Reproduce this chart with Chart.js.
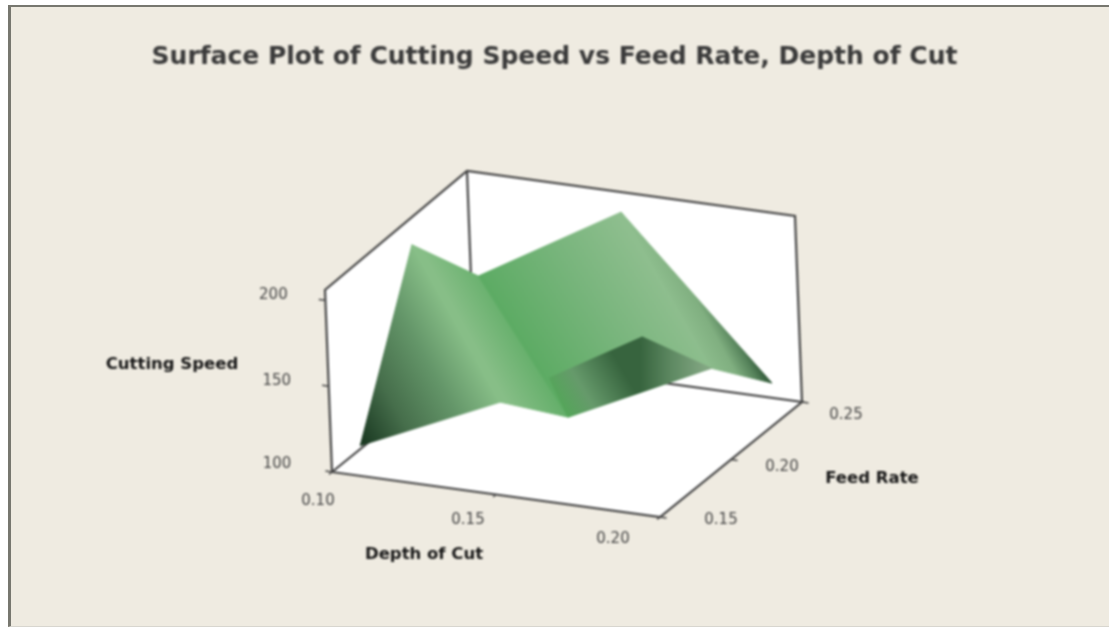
<!DOCTYPE html>
<html>
<head>
<meta charset="utf-8">
<title>Surface Plot</title>
<script src="https://cdn.jsdelivr.net/npm/chart.js@4/dist/chart.umd.min.js"></script>
<style>
    html, body { margin: 0; padding: 0; background: #fff; overflow: hidden; }
    #wrap { position: relative; width: 1109px; height: 628px; overflow: hidden; }
    #frame { position: absolute; left: 8px; top: 5px; right: -6px; bottom: 1px;
             background: #efebe1; border: 2px solid #77776f; border-left-width: 3px;
             border-bottom: 1px solid #d8d6cf; filter: blur(0.6px); }
    canvas { position: absolute; left: 0; top: 0; filter: blur(0.8px); }
</style>
</head>
<body>
<div id="wrap">
    <div id="frame"></div>
    <canvas id="surfacechart" width="1109" height="628"></canvas>
</div>
<script>
// axis ticks
var depthTicks = [0.10, 0.15, 0.20];
var feedTicks = [0.15, 0.20, 0.25];
var speedTicks = [100, 150, 200];

// box limits
var depthLimits = [0.10, 0.20];
var feedLimits = [0.15, 0.25];
var speedLimits = [100, 206];

// surface vertices
var depthOfCut = [0.100, 0.100, 0.120, 0.149, 0.200, 0.195, 0.180, 0.164, 0.150, 0.163, 0.152];
var feedRate = [0.170, 0.2105, 0.2105, 0.245, 0.230, 0.200, 0.185, 0.170, 0.1553, 0.225, 0.185];
var cuttingSpeed = [102, 190.6, 177.8, 198.5, 124, 151.3, 143.7, 135.2, 150.2, 144.2, 144.6];

// which vertices make each facet, painted in this order
var facets = [
    [0, 1, 8],
    [1, 2, 7, 8],
    [2, 3, 5, 7],
    [3, 4, 5],
    [10, 9, 6, 7],
    [9, 5, 6]
];

// shading of each facet: gradient line in page pixels, then colour stops
var shades = [
    { from: [358, 446], to: [485, 375], stops: [[0, "#14321c"], [0.35, "#466e4b"], [0.7, "#649669"], [1, "#87be87"]] },
    { from: [455, 310], to: [505, 282], stops: [[0, "#87be87"], [1, "#5cab63"]] },
    { from: [522, 346], to: [650, 265], stops: [[0, "#5cab63"], [0.55, "#78b57c"], [1, "#8ebe8e"]] },
    { from: [680, 320], to: [726, 295], stops: [[0, "#8ebe8e"], [0.45, "#80af80"], [0.75, "#55825a"], [1, "#264c2e"]] },
    { from: [565, 410], to: [640, 365], stops: [[0, "#55a55a"], [0.3, "#669a6b"], [0.8, "#37643e"], [1, "#37643e"]] },
    { from: [640, 350], to: [705, 350], stops: [[0, "#37643e"], [0.5, "#5f8a63"], [1, "#82a682"]] }
];

var boxColor = "#444444";
var tickColor = "#444444";
var textFont = "'DejaVu Sans'";

// oblique view of the 3d box, gives page pixels
function project(depth, feed, speed) {
    var u = (depth - depthLimits[0]) / (depthLimits[1] - depthLimits[0]);
    var v = (feed - feedLimits[0]) / (feedLimits[1] - feedLimits[0]);
    var w = (speed - speedLimits[0]) / (speedLimits[1] - speedLimits[0]);
    return {
        x: 332 + 328 * u + 142 * v - 7 * w,
        y: 472 + 45 * u - 115 * v - (182 + 4 * v) * w
    };
}

var d0 = depthLimits[0], d1 = depthLimits[1];
var f0 = feedLimits[0], f1 = feedLimits[1];
var s0 = speedLimits[0], s1 = speedLimits[1];

function closed(points) {
    return points.concat([points[0]]);
}

function wall(points) {
    return {
        data: closed(points),
        showLine: true,
        fill: "shape",
        backgroundColor: "#ffffff",
        borderWidth: 0,
        pointRadius: 0
    };
}

function edge(points, color, width) {
    return {
        data: points,
        showLine: true,
        fill: false,
        borderColor: color,
        borderWidth: width,
        pointRadius: 0
    };
}

function facetFill(ctx, shade) {
    var g = ctx.chart.ctx.createLinearGradient(shade.from[0], shade.from[1], shade.to[0], shade.to[1]);
    shade.stops.forEach(function (s) { g.addColorStop(s[0], s[1]); });
    return g;
}

var datasets = [];

// white walls and floor
datasets.push(wall([project(d0, f0, s0), project(d1, f0, s0), project(d1, f1, s0), project(d0, f1, s0)]));
datasets.push(wall([project(d0, f0, s0), project(d0, f0, s1), project(d0, f1, s1), project(d0, f1, s0)]));
datasets.push(wall([project(d0, f1, s0), project(d0, f1, s1), project(d1, f1, s1), project(d1, f1, s0)]));

// box outline
datasets.push(edge([project(d0, f0, s0), project(d0, f1, s0), project(d1, f1, s0), project(d1, f0, s0), project(d0, f0, s0)], boxColor, 2.2));
datasets.push(edge([project(d0, f0, s0), project(d0, f0, s1), project(d0, f1, s1), project(d1, f1, s1), project(d1, f1, s0)], boxColor, 2.2));
datasets.push(edge([project(d0, f1, s1), project(d0, f1, s0)], boxColor, 2.2));

// tick marks
speedTicks.forEach(function (t) {
    datasets.push(edge([project(d0, f0, t), project(d0 - 0.002, f0, t)], tickColor, 1.5));
});
depthTicks.forEach(function (t) {
    datasets.push(edge([project(t, f0, s0), project(t, f0 - 0.002, s0)], tickColor, 1.5));
});
feedTicks.forEach(function (t) {
    datasets.push(edge([project(d1, t, s0), project(d1 + 0.002, t, s0)], tickColor, 1.5));
});

// surface
facets.forEach(function (facet, i) {
    var pts = facet.map(function (k) {
        return project(depthOfCut[k], feedRate[k], cuttingSpeed[k]);
    });
    datasets.push({
        data: closed(pts),
        showLine: true,
        fill: "shape",
        backgroundColor: function (ctx) { return facetFill(ctx, shades[i]); },
        borderColor: function (ctx) { return facetFill(ctx, shades[i]); },
        borderWidth: 1,
        pointRadius: 0
    });
});

// last one in the list has to be drawn on top
datasets.reverse();

var speedOffsets = [[-55, -8], [-52, -5], [-52, -5]];
var depthOffsets = [[-14, 29], [-28, 26], [-47, 22]];
var feedOffsets = [[61, 3], [51, 8], [44, 13]];

var axisText = {
    id: "axisText",
    afterDatasetsDraw: function (chart) {
        var ctx = chart.ctx;
        ctx.save();
        ctx.textAlign = "center";
        ctx.textBaseline = "middle";
        ctx.fillStyle = "#444444";
        ctx.font = "15px " + textFont;
        speedTicks.forEach(function (t, i) {
            var p = project(d0, f0, t);
            ctx.fillText(String(t), p.x + speedOffsets[i][0], p.y + speedOffsets[i][1]);
        });
        depthTicks.forEach(function (t, i) {
            var p = project(t, f0, s0);
            ctx.fillText(t.toFixed(2), p.x + depthOffsets[i][0], p.y + depthOffsets[i][1]);
        });
        feedTicks.forEach(function (t, i) {
            var p = project(d1, t, s0);
            ctx.fillText(t.toFixed(2), p.x + feedOffsets[i][0], p.y + feedOffsets[i][1]);
        });
        ctx.fillStyle = "#161616";
        ctx.font = "bold 16.5px " + textFont;
        ctx.fillText("Cutting Speed", 172, 365);
        ctx.fillText("Depth of Cut", 424, 555);
        ctx.fillText("Feed Rate", 872, 479);
        ctx.restore();
    }
};

new Chart(document.getElementById("surfacechart"), {
    type: "scatter",
    data: { datasets: datasets },
    plugins: [axisText],
    options: {
        responsive: false,
        animation: false,
        layout: { padding: 0 },
        scales: {
            // the title block takes 80px so that both scales read as page pixels
            x: { type: "linear", display: false, min: 0, max: 1109 },
            y: { type: "linear", display: false, min: 80, max: 628, reverse: true }
        },
        plugins: {
            legend: { display: false },
            tooltip: { enabled: false },
            title: {
                display: true,
                text: "Surface Plot of Cutting Speed vs Feed Rate, Depth of Cut",
                color: "#3a3a3a",
                font: { family: "DejaVu Sans", size: 25, weight: "bold", lineHeight: 1 },
                padding: { top: 45, bottom: 10 }
            }
        }
    }
});
</script>
</body>
</html>
